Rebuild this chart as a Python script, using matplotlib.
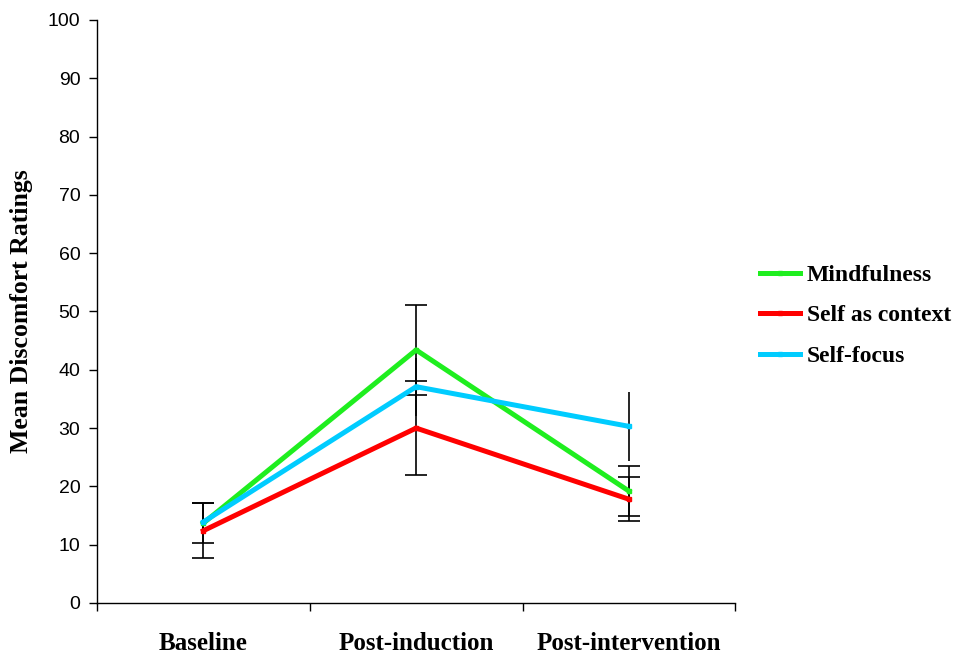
import matplotlib.pyplot as plt
import numpy as np

# mean discomfort ratings per phase, with error bar half-widths
phases = ["Baseline", "Post-induction", "Post-intervention"]
mindfulness = [13.7, 43.4, 19.2]
mindfulness_err = [3.4, 7.7, 4.3]
self_context = [12.4, 30.0, 17.8]
self_context_err = [4.7, 8.1, 3.8]
self_focus = [13.9, 37.1, 30.3]
self_focus_err = [2.0, 5.0, 5.9]

series = [
    ("Mindfulness", mindfulness, mindfulness_err, "#1fee1f", 4),
    ("Self as context", self_context, self_context_err, "#ff0000", 4),
    ("Self-focus", self_focus, self_focus_err, "#00ccff", 0),
]

serif = ["Liberation Serif", "DejaVu Serif"]

fig = plt.figure(figsize=(9.7, 6.55), dpi=100)
ax = fig.add_axes([0.1, 0.0794, 0.658, 0.8901])

x = np.arange(len(phases)) + 0.5
for name, vals, err, col, cap in series:
    ax.errorbar(x, vals, yerr=err, fmt="none", ecolor="black", elinewidth=1.2,
                capsize=cap * 2, capthick=1.2, zorder=1)
for name, vals, err, col, cap in series:
    ax.plot(x, vals, color=col, lw=3.6, marker="s", markersize=3, label=name, zorder=2)

ax.set_xlim(0, 3)
ax.set_ylim(0, 100)
ax.set_yticks(range(0, 101, 10))
ax.set_xticks([0, 1, 2, 3])
ax.set_xticklabels([])
ax.set_xticks(x, minor=True)
ax.set_xticklabels(phases, minor=True, family=serif, fontweight="bold", fontsize=18)
ax.tick_params(axis="x", which="minor", length=0, pad=21)
ax.tick_params(axis="x", which="major", direction="out", length=6, width=1)
ax.tick_params(axis="y", direction="out", length=6, width=1, labelsize=14, pad=6)
for lab in ax.get_yticklabels():
    lab.set_family(["Liberation Sans", "DejaVu Sans"])

for s in ["top", "right"]:
    ax.spines[s].set_visible(False)
ax.spines["left"].set_linewidth(1)
ax.spines["bottom"].set_linewidth(1)

ax.set_ylabel("Mean Discomfort Ratings", family=serif, fontweight="bold", fontsize=18.5)
ax.yaxis.set_label_coords(-0.1, 0.5)

leg = ax.legend(loc="upper left", bbox_to_anchor=(1.005, 0.617), frameon=False,
                prop={"family": serif, "weight": "bold", "size": 17},
                handlelength=1.7, handletextpad=0.3, labelspacing=0.8)

plt.savefig("out.png", dpi=100)
